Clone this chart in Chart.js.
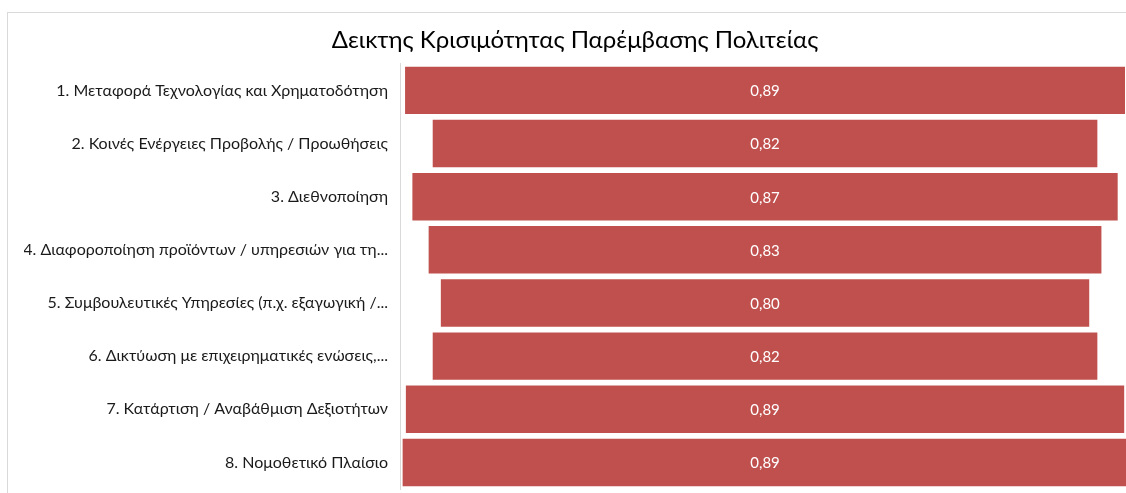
<!DOCTYPE html>
<html><head><meta charset="utf-8">
<script src="https://cdn.jsdelivr.net/npm/chart.js@4"></script>
<style>
html,body{margin:0;padding:0;background:#fff;overflow:hidden;width:1126px;height:493px;}
#frame{position:absolute;left:7px;top:12px;width:1200px;height:600px;border:1px solid #d9d9d9;box-sizing:border-box;}
#wrap{position:absolute;left:0;top:0;width:1126px;height:493px;}
</style></head>
<body>
<div id="frame"></div>
<div id="wrap"><canvas id="c" width="1126" height="493"></canvas></div>
<script>
const chartTitle = "Δεικτης Κρισιμότητας Παρέμβασης Πολιτείας";
const categories = [
  "1. Μεταφορά Τεχνολογίας και Χρηματοδότηση",
  "2. Κοινές Ενέργειες Προβολής / Προωθήσεις",
  "3. Διεθνοποίηση",
  "4. Διαφοροποίηση προϊόντων / υπηρεσιών για τη...",
  "5. Συμβουλευτικές Υπηρεσίες (π.χ. εξαγωγική /...",
  "6. Δικτύωση με επιχειρηματικές ενώσεις,...",
  "7. Κατάρτιση / Αναβάθμιση Δεξιοτήτων",
  "8. Νομοθετικό Πλαίσιο"
];
const values = [0.888, 0.82, 0.87, 0.83, 0.80, 0.82, 0.886, 0.894];

const funnelData = values.map(v => [-v / 2, v / 2]);
const FONT = 'Lato, "Open Sans", sans-serif';

const labelPlugin = {
  id: 'barLabels',
  afterDatasetsDraw(chart) {
    const ctx = chart.ctx;
    const meta = chart.getDatasetMeta(0);
    ctx.save();
    ctx.fillStyle = '#ffffff';
    ctx.font = '15px ' + FONT;
    ctx.textAlign = 'center';
    ctx.textBaseline = 'middle';
    meta.data.forEach((el, i) => {
      const cx = (el.x + el.base) / 2;
      ctx.fillText(values[i].toFixed(2).replace('.', ','), cx, el.y + 1);
    });
    ctx.restore();
  }
};

new Chart(document.getElementById('c'), {
  type: 'bar',
  data: {
    labels: categories,
    datasets: [{
      data: funnelData,
      backgroundColor: '#C0504D',
      borderColor: 'rgba(255,255,255,0.45)',
      borderWidth: 1,
      borderSkipped: false,
      categoryPercentage: 1,
      barPercentage: 0.93
    }]
  },
  options: {
    indexAxis: 'y',
    responsive: false,
    maintainAspectRatio: false,
    animation: false,
    devicePixelRatio: 1,
    layout: { padding: { left: 24, right: 0, top: 0, bottom: 4 } },
    plugins: {
      legend: { display: false },
      tooltip: { enabled: false },
      title: {
        display: true,
        text: chartTitle,
        color: '#000000',
        font: { family: FONT, size: 24, weight: 'normal', lineHeight: 1.2 },
        padding: { top: 26, bottom: 9 }
      }
    },
    scales: {
      x: { display: false, min: -0.449, max: 0.444 },
      y: {
        grid: { display: false, drawTicks: false },
        border: { display: true, color: '#d9d9d9', width: 1 },
        ticks: {
          color: '#1a1a1a',
          padding: 12,
          font: { family: FONT, size: 16 }
        },
        afterFit(scale) {
          scale.width = 376;
          scale.paddingTop = 0;
          scale.paddingBottom = 0;
        }
      }
    }
  },
  plugins: [labelPlugin]
});
</script>
</body></html>
